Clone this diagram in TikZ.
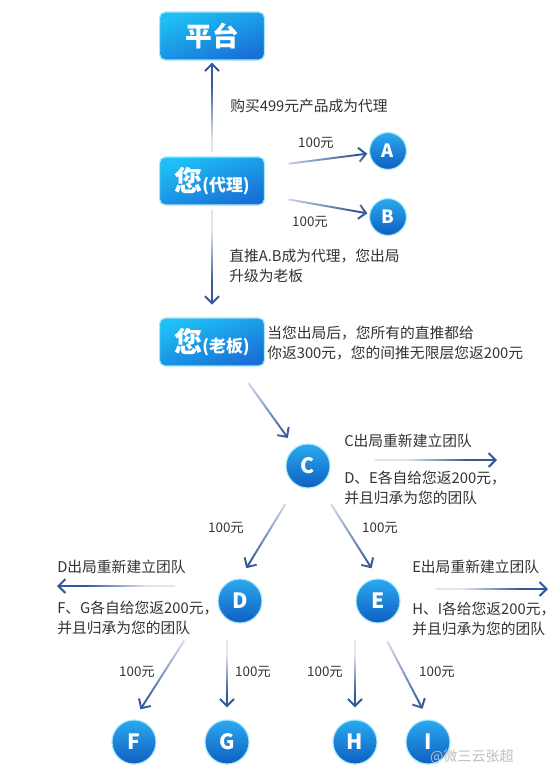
\documentclass[tikz,border=0pt]{standalone}
\usepackage{fontspec}
\setmainfont{Noto Sans CJK SC}
\usetikzlibrary{arrows.meta, positioning, calc, fadings}
\definecolor{boxcyan}{HTML}{1EC0F5}
\definecolor{boxblue}{HTML}{1870D6}
\definecolor{ballcyan}{HTML}{2AAAEE}
\definecolor{ballblue}{HTML}{0F5EC2}
\definecolor{glowcyan}{HTML}{A8E8FA}
\definecolor{arrowblue}{HTML}{34589A}
\definecolor{textgray}{HTML}{333333}
\tikzfading[name=tailfade, left color=transparent!85, right color=transparent!0]

\begin{document}
\begin{tikzpicture}[x=0.025cm, y=-0.025cm,
    boxnode/.style={rounded corners=4pt, top color=boxcyan, bottom color=boxblue, shading angle=20,
          draw=glowcyan, line width=0.8pt, text=white, font=\bfseries,
          minimum width=2.62cm, minimum height=1.2cm, inner sep=0pt},
    ball/.style={circle, top color=ballcyan, bottom color=ballblue, draw=glowcyan, line width=0.8pt,
          text=white, font=\fontsize{15}{15}\selectfont\bfseries, minimum size=1.1cm, inner sep=0pt},
    smallball/.style={ball, minimum size=0.92cm, font=\fontsize{13}{13}\selectfont\bfseries},
    conn/.style={-{Straight Barb[length=5pt, width=10pt]}, line width=1.4pt, arrowblue,
          path fading=tailfade, fading angle=#1},
    % straight arrows: fading placed by hand (centre, direction, length/100bp)
    flatconn/.style n args={3}{-{Straight Barb[length=5pt, width=10pt]}, line width=1.4pt, arrowblue,
          path fading=tailfade, fit fading=false, fading transform={shift={#1}, rotate=#2, xscale=#3}},
    note/.style={font=\fontsize{10.5}{14.2}\selectfont, text=textgray, align=left, inner sep=0pt},
    money/.style={font=\fontsize{9.5}{12}\selectfont, text=textgray, inner sep=0pt},
]
    \fill[white] (0,0) rectangle (554,784);
    \useasboundingbox (0,0) rectangle (554,784);

    % Platform and agent
    \node[boxnode] (plat) at (212,36) {\fontsize{19}{19}\selectfont 平台};
    \node[boxnode] (agent) at (212,181) {\fontsize{20}{20}\selectfont 您\fontsize{12}{12}\selectfont(代理)};
    \node[boxnode] (boss) at (212,342) {\fontsize{20}{20}\selectfont 您\fontsize{12}{12}\selectfont(老板)};

    \draw[flatconn={(212,112)}{90}{0.78}, shorten <=0.12cm, shorten >=0.05cm] (agent.north) -- (plat.south);
    \node[note, anchor=west] (buyNote) at (230,106) {购买499元产品成为代理};

    % Direct referrals
    \node[smallball] (A) at (388,151) {A};
    \node[smallball] (B) at (388,217) {B};
    \draw[conn=45, shorten <=0.6cm, shorten >=0.05cm] (agent.15) -- (A);
    \draw[conn=-45, shorten <=0.6cm, shorten >=0.05cm] (agent.-15) -- (B);
    \node[money] (moneyA) at (316,143) {100元};
    \node[money] (moneyB) at (310,222) {100元};

    % Upgrade to boss
    \draw[flatconn={(212,257)}{-90}{0.75}, shorten <=0.12cm, shorten >=0.32cm] (agent.south) -- (boss.north);
    \node[note, anchor=west] (upNote) at (229,266) {直推A.B成为代理，您出局\\升级为老板};
    \node[note, anchor=west] (bossNote) at (267,343) {当您出局后，您所有的直推都给\\你返300元，您的间推无限层您返200元};

    % C leaves
    \node[ball] (C) at (308,466) {C};
    \draw[conn=-45, shorten <=0.5cm, shorten >=0.3cm] (boss.-45) -- (C);
    \coordinate (cOut) at (497,460);
    \draw[flatconn={(436,460)}{0}{0.9}, shorten <=1.12cm] (C.east |- cOut) -- (cOut);
    \node[note, anchor=west] (cNoteTop) at (344,441) {C出局重新建立团队};
    \node[note, anchor=west] (cNoteBot) at (344,488) {D、E各自给您返200元，\\并且归承为您的团队};

    % D and E
    \node[ball] (D) at (240,601) {D};
    \node[ball] (E) at (378,601) {E};
    \draw[conn=-135, shorten <=0.55cm, shorten >=0.3cm] (C.240) -- (D.north);
    \draw[conn=-45, shorten <=0.55cm, shorten >=0.3cm] (C.300) -- (E.north);
    \node[money] (moneyD) at (226,528) {100元};
    \node[money] (moneyE) at (380,528) {100元};

    \coordinate (dOut) at (57,586);
    \draw[flatconn={(116,586)}{180}{0.88}, shorten <=1.07cm] (D.west |- dOut) -- (dOut);
    \node[note, anchor=west] (dNoteTop) at (57,567) {D出局重新建立团队};
    \node[note, anchor=west] (dNoteBot) at (57,618) {F、G各自给您返200元，\\并且归承为您的团队};

    \coordinate (eOut) at (548,589);
    \draw[flatconn={(491,589)}{0}{0.84}, shorten <=0.88cm] (E.east |- eOut) -- (eOut);
    \node[note, anchor=west] (eNoteTop) at (412,567) {E出局重新建立团队};
    \node[note, anchor=west] (eNoteBot) at (412,619) {H、I各给您返200元，\\并且归承为您的团队};

    % Bottom level
    \node[ball] (F) at (134,742) {F};
    \node[ball] (G) at (227,742) {G};
    \node[ball] (H) at (355,742) {H};
    \node[ball] (I) at (428,742) {I};
    \draw[conn=-135, shorten <=0.5cm, shorten >=0.3cm] ([shift={(-45,0)}]D.south) -- (F.north);
    \draw[flatconn={(227,674)}{-90}{0.54}, shorten <=0.42cm, shorten >=0.3cm] (G.north |- D.south) -- (G.north);
    \draw[flatconn={(355,674)}{-90}{0.54}, shorten <=0.42cm, shorten >=0.3cm] (H.north |- E.south) -- (H.north);
    \draw[conn=-45, shorten <=0.5cm, shorten >=0.3cm] (E.south) -- (I.north);
    \node[money] (moneyF) at (137,672) {100元};
    \node[money] (moneyG) at (253,672) {100元};
    \node[money] (moneyH) at (325,672) {100元};
    \node[money] (moneyI) at (437,672) {100元};

    \node[font=\fontsize{10}{10}\selectfont, text=gray!50, inner sep=0pt] (mark) at (472,757) {@微三云张超};
\end{tikzpicture}
\end{document}
